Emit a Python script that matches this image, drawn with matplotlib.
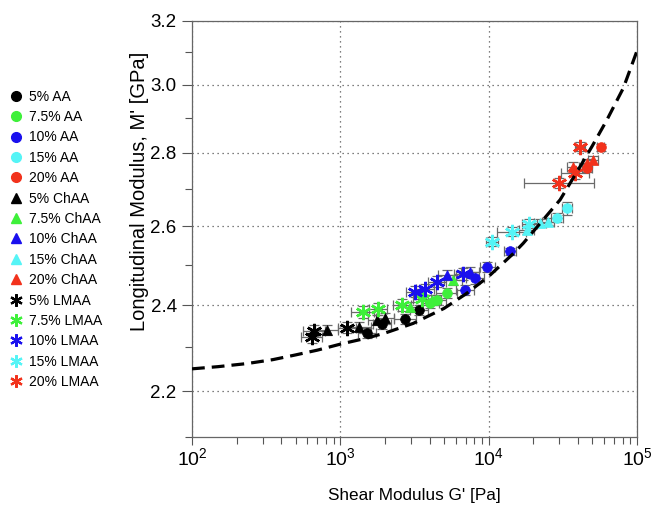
import numpy as np
import matplotlib
matplotlib.use("Agg")
import matplotlib.pyplot as plt
from matplotlib.ticker import FixedLocator, FixedFormatter, NullFormatter, LogLocator
from matplotlib.lines import Line2D

plt.rcParams['font.family'] = ['Liberation Sans', 'DejaVu Sans']

# ---- data ----
concentrations = ["5%", "7.5%", "10%", "15%", "20%"]
colors = ["#000000", "#3ef03a", "#1a10ee", "#55f4f6", "#f2321c"]
types = ["AA", "ChAA", "LMAA"]

# AA (circles)
aa_G = [[1520, 1919, 2729, 3390], [4024, 4465, 5212], [6926, 8091, 9793, 13930],
        [28770, 33590], [45810, 56930]]
aa_M = [[2.334, 2.355, 2.366, 2.388], [2.404, 2.412, 2.429], [2.437, 2.466, 2.495, 2.534],
        [2.622, 2.647], [2.757, 2.816]]
# ChAA (triangles)
ch_G = [[809, 1336, 1775, 2000], [2950, 4150, 5776], [5212, 7486],
        [18050, 22190, 25250], [37230, 45810, 50730]]
ch_M = [[2.340, 2.347, 2.364, 2.368], [2.395, 2.413, 2.462], [2.475, 2.483],
        [2.590, 2.608, 2.612], [2.761, 2.771, 2.780]]
# LMAA (stars)
lm_G = [[641, 664, 1104], [1415, 1795, 2593, 3536], [3187, 3722, 4465, 6745],
        [10480, 14300, 18790], [29930, 38190, 41300]]
lm_M = [[2.323, 2.339, 2.346], [2.383, 2.390, 2.400, 2.414], [2.433, 2.439, 2.458, 2.477],
        [2.559, 2.585, 2.606], [2.717, 2.743, 2.818]]

# x error factors (multiplicative) and y errors
aa_xf = [[1.15, 1.15, 1.18, 1.15], [1.15, 1.15, 1.18], [1.15, 1.15, 1.12, 1.1], [1.1, 1.08], [1.08, 1.06]]
aa_ye = [[0.012, 0.012, 0.012, 0.012], [0.012, 0.012, 0.012], [0.012, 0.015, 0.012, 0.010], [0.012, 0.018], [0.012, 0.010]]
ch_xf = [[1.2, 1.2, 1.15, 1.15], [1.2, 1.15, 1.15], [1.15, 1.15], [1.12, 1.1, 1.1], [1.1, 1.08, 1.08]]
ch_ye = [[0.012, 0.012, 0.012, 0.012], [0.012, 0.012, 0.012], [0.012, 0.012], [0.010, 0.010, 0.010], [0.012, 0.012, 0.012]]
lm_xf = [[1.18, 1.18, 1.15], [1.2, 1.15, 1.15, 1.15], [1.15, 1.15, 1.15, 1.15], [1.1, 1.25, 1.12], [1.72, 1.25, 1.08]]
lm_ye = [[0.014, 0.014, 0.014], [0.014, 0.014, 0.014, 0.014], [0.014, 0.014, 0.014, 0.014], [0.012, 0.012, 0.012], [0.014, 0.015, 0.014]]

# dashed model curve
curve_G = [100, 150, 234, 350, 500, 700, 1000, 1500, 2000, 3100, 5000, 7000, 9950, 14700,
           17100, 22000, 30300, 41300, 50000, 62500, 80900, 99500]
curve_M = [2.250, 2.255, 2.262, 2.271, 2.282, 2.293, 2.307, 2.321, 2.333, 2.356, 2.392, 2.427,
           2.470, 2.529, 2.555, 2.605, 2.670, 2.761, 2.820, 2.894, 2.990, 3.102]

# ---- figure ----
fig = plt.figure(figsize=(6.52, 5.08), dpi=100)
ax = fig.add_axes([0.2945, 0.1398, 0.6825, 0.8189])

ax.set_xscale('log')
ax.set_yscale('log')
ax.set_xlim(100, 1e5)
ax.set_ylim(2.1, 3.2)

ax.plot(curve_G, curve_M, ls=(0, (4.0, 2.2)), color='black', lw=2.3, zorder=4)

markers = {"AA": 'o', "ChAA": '^', "LMAA": (6, 2, 0)}
msizes = {"AA": 7, "ChAA": 7.5, "LMAA": 11}
groups = {"AA": (aa_G, aa_M, aa_xf, aa_ye), "ChAA": (ch_G, ch_M, ch_xf, ch_ye),
          "LMAA": (lm_G, lm_M, lm_xf, lm_ye)}

handles = []
for t in types:
    Gs, Ms, XF, YE = groups[t]
    for i, c in enumerate(concentrations):
        g = np.array(Gs[i], float)
        m = np.array(Ms[i], float)
        f = np.array(XF[i], float)
        ye = np.array(YE[i], float)
        xerr = np.vstack([g - g / f, g * f - g])
        ax.errorbar(g, m, xerr=xerr, yerr=ye, fmt='none', ecolor='#6a6a6a',
                    elinewidth=0.9, capsize=3.5, capthick=0.9, zorder=2)
        if t == "LMAA":
            ax.plot(g, m, ls='none', marker=markers[t], ms=msizes[t], mec=colors[i],
                    mew=1.8, zorder=3)
        else:
            ax.plot(g, m, ls='none', marker=markers[t], ms=msizes[t], mfc=colors[i],
                    mec=colors[i], mew=0.5, zorder=3)
        if t == "LMAA":
            h = Line2D([], [], ls='none', marker=markers[t], ms=9, mec=colors[i], mew=1.6)
        else:
            h = Line2D([], [], ls='none', marker=markers[t], ms=7, mfc=colors[i], mec=colors[i])
        handles.append((h, f"{c} {t}"))

# ticks
yt = [2.2, 2.4, 2.6, 2.8, 3.0, 3.2]
ax.yaxis.set_major_locator(FixedLocator(yt))
ax.yaxis.set_major_formatter(FixedFormatter(["2.2", "2.4", "2.6", "2.8", "3.0", "3.2"]))
ax.yaxis.set_minor_locator(FixedLocator([2.1, 2.3, 2.5, 2.7, 2.9, 3.1]))
ax.yaxis.set_minor_formatter(NullFormatter())
ax.xaxis.set_major_locator(LogLocator(base=10, numticks=10))
ax.xaxis.set_minor_locator(LogLocator(base=10, subs=np.arange(2, 10), numticks=20))
ax.xaxis.set_minor_formatter(NullFormatter())

ax.tick_params(which='both', direction='out', top=False, right=False, color='#555555',
               width=0.8)
ax.tick_params(axis='y', which='major', labelsize=13.5, length=7, pad=4)
ax.tick_params(axis='x', which='major', labelsize=14, length=6, pad=1)
ax.tick_params(which='minor', length=5)

for s in ax.spines.values():
    s.set_color('#666666')
    s.set_linewidth(0.9)

ax.grid(True, which='major', ls=(0, (1, 3)), color='#555555', lw=0.9)

ax.set_xlabel("Shear Modulus G' [Pa]", fontsize=12.3, labelpad=14)
ax.set_ylabel("Longitudinal Modulus, M' [GPa]", fontsize=14.5)
ax.yaxis.set_label_coords(-0.097, 0.59)

fig.legend([h for h, _ in handles], [l for _, l in handles], loc='upper left',
           bbox_to_anchor=(-0.006, 0.84), frameon=False, fontsize=10, labelspacing=0.46,
           handletextpad=0.2, handlelength=1.6, borderaxespad=0.2)

fig.savefig("out.png", dpi=100)
